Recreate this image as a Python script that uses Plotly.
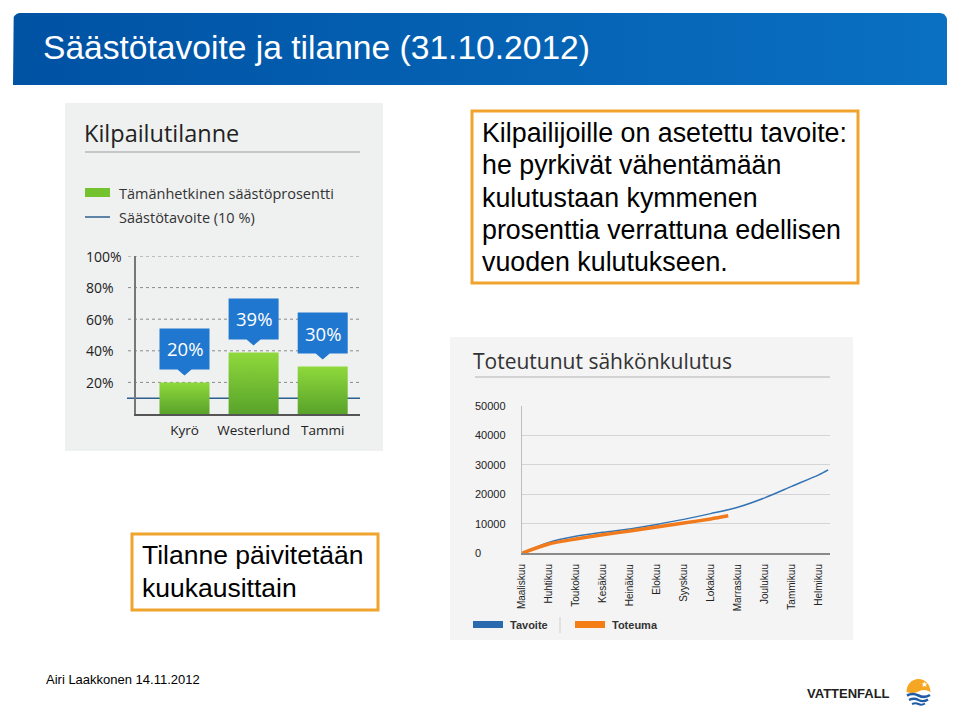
import numpy as np
import plotly.graph_objects as go

W, H = 960, 720

# ---------------- data ----------------
slide_title = "Säästötavoite ja tilanne (31.10.2012)"
footer_text = "Airi Laakkonen 14.11.2012"
info_lines = ["Kilpailijoille on asetettu tavoite:", "he pyrkivät vähentämään",
              "kulutustaan kymmenen", "prosenttia verrattuna edellisen",
              "vuoden kulutukseen."]
update_lines = ["Tilanne päivitetään", "kuukausittain"]

bar_title = "Kilpailutilanne"
bar_legend = ["Tämänhetkinen säästöprosentti", "Säästötavoite (10 %)"]
bar_categories = ["Kyrö", "Westerlund", "Tammi"]
bar_values = [20, 39, 30]
bar_labels = ["20%", "39%", "30%"]
savings_target = 10
bar_ticks = [20, 40, 60, 80, 100]
bar_ticktext = ["20%", "40%", "60%", "80%", "100%"]

line_title = "Toteutunut sähkönkulutus"
months = ["Maaliskuu", "Huhtikuu", "Toukokuu", "Kesäkuu", "Heinäkuu", "Elokuu",
          "Syyskuu", "Lokakuu", "Marraskuu", "Joulukuu", "Tammikuu", "Helmikuu"]
tavoite_pos = [0, 1, 2, 3, 4, 5, 6, 7, 8, 9, 10, 11, 11.35]
tavoite_values = [0, 3700, 5750, 7100, 8250, 9800, 11500, 13450, 15600, 18800, 22700, 26600, 28300]
toteuma_pos = [0, 1, 2, 3, 4, 5, 6, 7, 7.65]
toteuma_values = [0, 3150, 4850, 6300, 7550, 8950, 10250, 11650, 12700]
line_ticks = [0, 10000, 20000, 30000, 40000, 50000]
line_legend = ["Tavoite", "Toteuma"]

# ---------------- helpers ----------------
def X(px):
    return px / W

def Y(py):
    return 1 - py / H

SLIDE_FONT = "Liberation Sans, Arial, sans-serif"
CHART_FONT = "Open Sans, Lato, sans-serif"
ORANGE_BOX = "#f0a42c"

fig = go.Figure()
shapes = []
annotations = []

def text(t, x, y, size, color="#000", family=SLIDE_FONT, xanchor="left", xref="paper", yref="paper", weight="normal"):
    annotations.append(dict(text=t, x=x, y=y, xref=xref, yref=yref, xanchor=xanchor, yanchor="middle",
                            showarrow=False, borderpad=0, borderwidth=0,
                            font=dict(family=family, size=size, color=color, weight=weight)))

# ---------------- page layer (header gradient) ----------------
def rounded_top_rect(x0, y0, x1, y1, r, n=8):
    xs, ys = [x0], [y1]
    t = np.linspace(np.pi, 1.5 * np.pi, n)
    xs += list(x0 + r + r * np.cos(t)); ys += list(y0 + r + r * np.sin(t))
    t = np.linspace(1.5 * np.pi, 2 * np.pi, n)
    xs += list(x1 - r + r * np.cos(t)); ys += list(y0 + r + r * np.sin(t))
    xs += [x1, x0]; ys += [y1, y1]
    return xs, ys

hx, hy = rounded_top_rect(13, 13, 947, 85, 7)
fig.add_trace(go.Scatter(x=hx, y=hy, mode="lines", fill="toself",
                         line=dict(width=0, color="#0060b0"),
                         fillgradient=dict(type="horizontal",
                                           colorscale=[[0, "#0052a3"], [1, "#0a70c2"]]),
                         hoverinfo="skip", showlegend=False, xaxis="x", yaxis="y"))
text(slide_title, X(43), Y(48), 33.6, "white")

# ---------------- bar chart panel ----------------
shapes.append(dict(type="rect", xref="paper", yref="paper", x0=X(65), x1=X(383), y0=Y(451), y1=Y(103),
                   fillcolor="#eff0f0", line=dict(width=0), layer="below"))
text(bar_title, X(84), Y(133), 23.5, "#222", CHART_FONT)
shapes.append(dict(type="line", xref="paper", yref="paper", x0=X(85), x1=X(360), y0=Y(152), y1=Y(152),
                   line=dict(color="#b8b8b8", width=1.5), layer="below"))
# legend
shapes.append(dict(type="rect", xref="paper", yref="paper", x0=X(85), x1=X(110), y0=Y(197), y1=Y(188),
                   fillcolor="#74c22e", line=dict(width=0), layer="below"))
shapes.append(dict(type="line", xref="paper", yref="paper", x0=X(85), x1=X(110), y0=Y(217), y1=Y(217),
                   line=dict(color="#2c5f8c", width=1.5), layer="below"))
text(bar_legend[0], X(119), Y(194), 14.5, "#333", CHART_FONT)
text(bar_legend[1], X(119), Y(217), 14.5, "#333", CHART_FONT)

# bar axes geometry
bx0, bx1 = 136, 360
by0, by1 = 414, 256          # pixel of 0 and 100
px_per_cat = 69.1
x_lo = -(184.5 - bx0) / px_per_cat
x_hi = x_lo + (bx1 - bx0) / px_per_cat
px_per_pct = (by0 - by1) / 100.0
half_w = 25 / px_per_cat

for v in bar_ticks:
    shapes.append(dict(type="line", xref="paper", yref="y2", x0=X(128), x1=X(360), y0=v, y1=v,
                       line=dict(color="#8a8a8a", width=1, dash="dot"), layer="below"))
# target line (behind bars)
shapes.append(dict(type="line", xref="paper", yref="y2", x0=X(127), x1=X(360),
                   y0=savings_target, y1=savings_target,
                   line=dict(color="#2c5f8c", width=1.5), layer="below"))
for v, t in zip(bar_ticks, bar_ticktext):
    text(t, X(86), v, 14, "#222", CHART_FONT, yref="y2")

for i, v in enumerate(bar_values):
    fig.add_trace(go.Scatter(x=[i - half_w, i - half_w, i + half_w, i + half_w, i - half_w],
                             y=[0, v, v, 0, 0], mode="lines", fill="toself",
                             line=dict(width=0, color="#74c22e"),
                             fillgradient=dict(type="vertical",
                                               colorscale=[[0, "#58a32a"], [1, "#8fd93c"]]),
                             hoverinfo="skip", showlegend=False, xaxis="x2", yaxis="y2"))

gap = 13 / px_per_pct
tip = 7 / px_per_pct
box_h = 41 / px_per_pct
ptr = 7 / px_per_cat
for i, (v, lab) in enumerate(zip(bar_values, bar_labels)):
    b = v + gap
    t = b + box_h
    fig.add_trace(go.Scatter(
        x=[i - half_w, i - half_w, i + half_w, i + half_w, i + ptr, i, i - ptr, i - half_w],
        y=[b, t, t, b, b, v + tip, b, b], mode="lines", fill="toself",
        fillcolor="#1f77d0", line=dict(width=0, color="#1f77d0"),
        hoverinfo="skip", showlegend=False, xaxis="x2", yaxis="y2"))
    text(lab, i, b + box_h / 2, 18.5, "white", CHART_FONT, xanchor="center", xref="x2", yref="y2")

# ---------------- line chart panel ----------------
shapes.append(dict(type="rect", xref="paper", yref="paper", x0=X(450), x1=X(853), y0=Y(640), y1=Y(337),
                   fillcolor="#f4f4f4", line=dict(width=0), layer="below"))
text(line_title, X(473), Y(361), 21, "#333", CHART_FONT)
shapes.append(dict(type="line", xref="paper", yref="paper", x0=X(475), x1=X(830), y0=Y(377), y1=Y(377),
                   line=dict(color="#c8c8c8", width=1.5), layer="below"))

lx0, lx1 = 521.7, 830
ly0, ly1 = 553.3, 405.8
px_per_month = 27.0
for v in line_ticks:
    text(str(v), X(475), v, 11, "#222", yref="y3")

fig.add_trace(go.Scatter(x=tavoite_pos, y=tavoite_values, mode="lines",
                         line=dict(color="#3474b4", width=1.5, shape="spline", smoothing=0.8),
                         hoverinfo="skip", showlegend=False, xaxis="x3", yaxis="y3"))
fig.add_trace(go.Scatter(x=toteuma_pos, y=toteuma_values, mode="lines",
                         line=dict(color="#f07a1c", width=3.5, shape="spline", smoothing=0.8),
                         hoverinfo="skip", showlegend=False, xaxis="x3", yaxis="y3"))

shapes.append(dict(type="rect", xref="paper", yref="paper", x0=X(473), x1=X(503), y0=Y(628), y1=Y(621),
                   fillcolor="#2a6bb0", line=dict(width=0), layer="below"))
text(line_legend[0], X(510), Y(625), 11, "#333", weight="bold")
shapes.append(dict(type="line", xref="paper", yref="paper", x0=X(560), x1=X(560), y0=Y(633), y1=Y(617),
                   line=dict(color="#d0d0d0", width=1), layer="below"))
shapes.append(dict(type="rect", xref="paper", yref="paper", x0=X(575), x1=X(605), y0=Y(628), y1=Y(621),
                   fillcolor="#f57d15", line=dict(width=0), layer="below"))
text(line_legend[1], X(612), Y(625), 11, "#333", weight="bold")

# ---------------- text boxes ----------------
shapes.append(dict(type="rect", xref="paper", yref="paper", x0=X(472), x1=X(858), y0=Y(283), y1=Y(111),
                   fillcolor="white", line=dict(color=ORANGE_BOX, width=3), layer="below"))
for k, line in enumerate(info_lines):
    text(line, X(482), Y(133 + 32.3 * k), 26.8)
shapes.append(dict(type="rect", xref="paper", yref="paper", x0=X(132), x1=X(378), y0=Y(610), y1=Y(534),
                   fillcolor="white", line=dict(color=ORANGE_BOX, width=3), layer="below"))
for k, line in enumerate(update_lines):
    text(line, X(142), Y(555 + 33 * k), 26.5)

# ---------------- footer ----------------
text(footer_text, X(46), Y(679), 13)
text("VATTENFALL", X(807), Y(693), 13, "#222", weight="bold")

def path(cmds):
    out = []
    for cmd in cmds:
        c = cmd[0]
        nums = cmd[1:]
        pairs = [f"{X(nums[j]):.5f},{Y(nums[j + 1]):.5f}" for j in range(0, len(nums), 2)]
        out.append(c + " ".join(pairs))
    return " ".join(out)

shapes.append(dict(type="path", xref="paper", yref="paper", layer="above",
                   path=path([("M", 906.5, 692), ("C", 906.5, 684.4, 911.9, 679, 918.5, 679),
                              ("C", 925.1, 679, 930.5, 684.4, 930.5, 692),
                              ("Q", 924.5, 688.5, 918.5, 691.5), ("Q", 912.5, 694.5, 906.5, 692), ("Z",)]),
                   fillcolor="#f5a623", line=dict(width=0)))
for (xa, ya, xb, yb, xc, yc, xd, yd, xe, ye, wd) in [
        (907, 695.5, 912.5, 692.5, 918.5, 695.5, 924.5, 698.5, 930, 695, 2.6),
        (909, 700, 914, 697.5, 918.5, 700, 923.5, 702.5, 928, 699.5, 2.4),
        (912, 704, 915.5, 702.5, 918.5, 704, 921.5, 705.5, 925, 703.5, 2.0)]:
    shapes.append(dict(type="path", xref="paper", yref="paper", layer="above",
                       path=path([("M", xa, ya), ("Q", xb, yb, xc, yc), ("Q", xd, yd, xe, ye)]),
                       line=dict(color="#1f5ca8", width=wd)))
text("★", X(924.5), Y(684.5), 8, "white", "DejaVu Sans", xanchor="center")

# ---------------- layout ----------------
fig.update_layout(
    width=W, height=H, margin=dict(l=0, r=0, t=0, b=0, pad=0, autoexpand=False),
    paper_bgcolor="white", plot_bgcolor="rgba(0,0,0,0)",
    showlegend=False, shapes=shapes, annotations=annotations,
    xaxis=dict(domain=[0, 1], range=[0, W], visible=False, fixedrange=True),
    yaxis=dict(domain=[0, 1], range=[H, 0], visible=False, fixedrange=True),
    xaxis2=dict(domain=[X(bx0), X(bx1)], range=[x_lo, x_hi], anchor="y2",
                tickmode="array", tickvals=list(range(len(bar_categories))), ticktext=bar_categories,
                showgrid=False, zeroline=False, showline=True, linecolor="#555", linewidth=1.5,
                ticks="", ticklabelstandoff=3, automargin=False,
                tickfont=dict(family=CHART_FONT, size=13.5, color="#222")),
    yaxis2=dict(domain=[Y(by0), Y(by1)], range=[0, 100], anchor="x2", automargin=False,
                showgrid=False, zeroline=False, showline=True, linecolor="#777", linewidth=1.5,
                showticklabels=False, ticks=""),
    xaxis3=dict(domain=[X(lx0), X(lx1)], range=[0, (lx1 - lx0) / px_per_month], anchor="y3",
                tickmode="array", tickvals=list(range(len(months))), ticktext=months,
                tickangle=-90, showgrid=False, zeroline=False, showline=True, automargin=False,
                linecolor="#8a8a8a", linewidth=1.5, ticks="", ticklabelstandoff=5,
                tickfont=dict(family=SLIDE_FONT, size=10, color="#222")),
    yaxis3=dict(domain=[Y(ly0), Y(ly1)], range=[0, 50000], anchor="x3", automargin=False,
                tickmode="array", tickvals=line_ticks, showticklabels=False, ticks="",
                showgrid=True, gridcolor="#d4d4d4", gridwidth=1, zeroline=False,
                showline=True, linecolor="#bdbdbd", linewidth=1),
)

fig.write_html("out.html")
